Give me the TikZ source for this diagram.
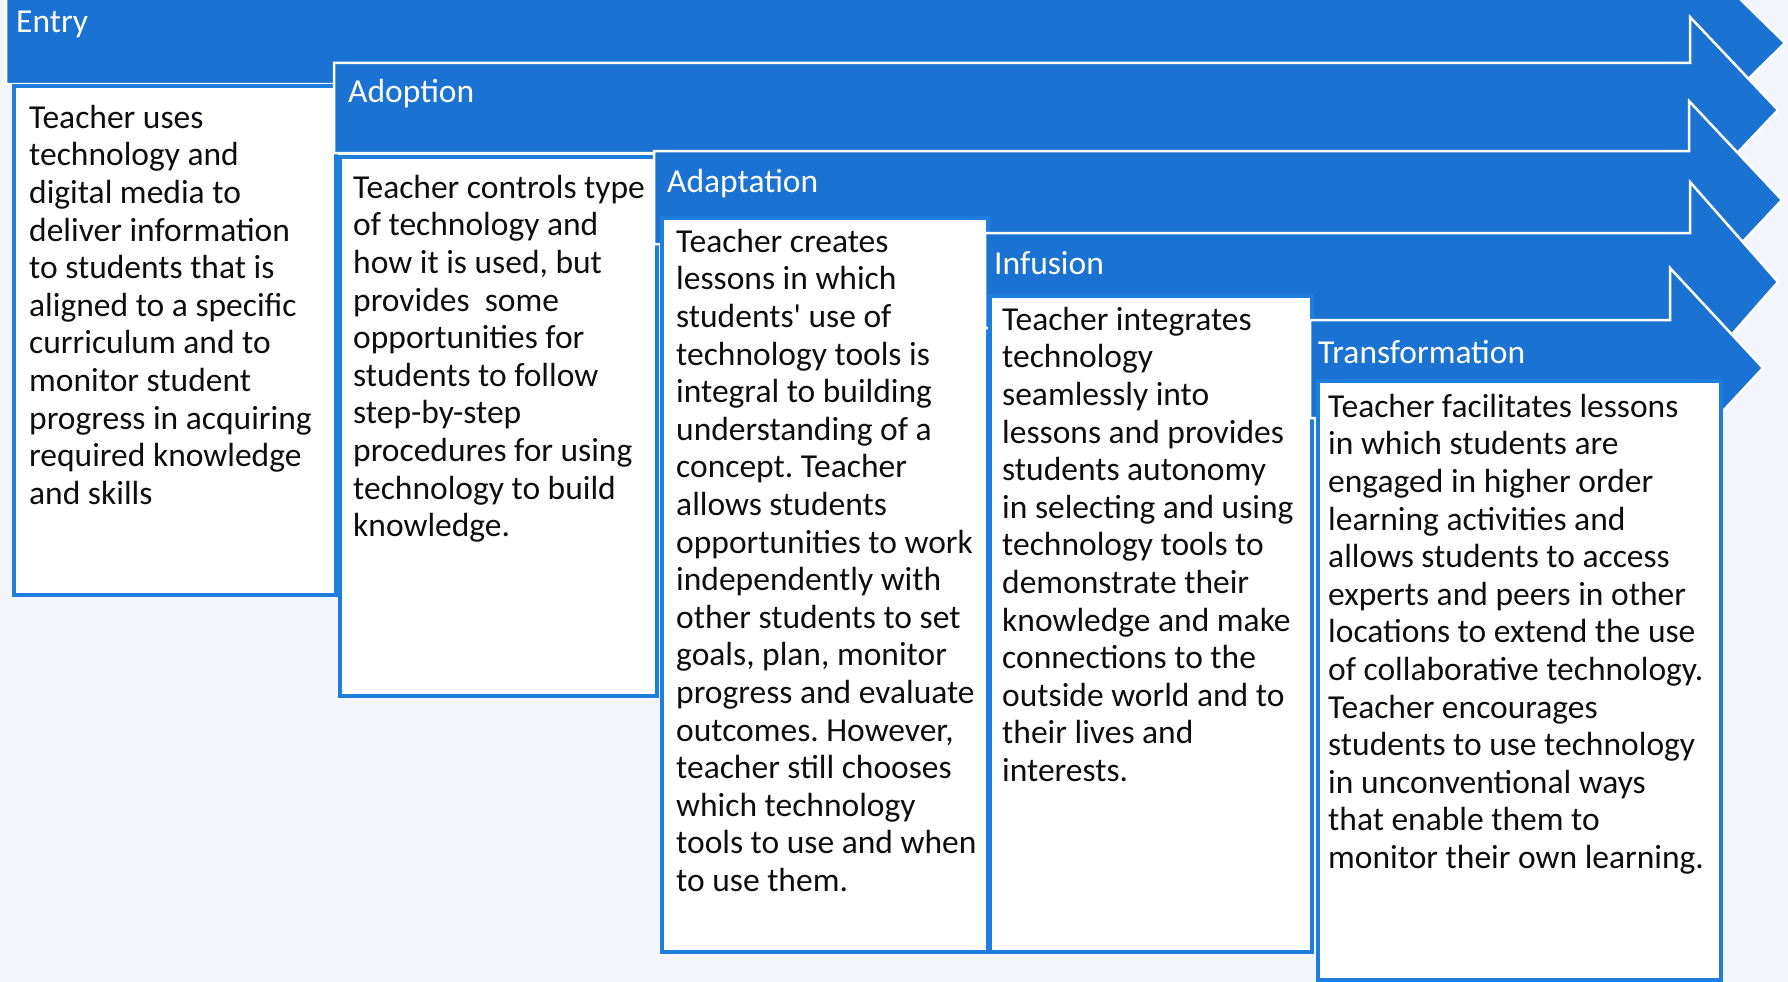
\documentclass[tikz,border=0pt]{standalone}
\usepackage{fontspec}
\setmainfont{Carlito}
\frenchspacing
\definecolor{bandblue}{RGB}{26,114,210}
\definecolor{boxline}{RGB}{30,126,222}
\definecolor{bgcol}{RGB}{243,246,252}
\definecolor{inkcol}{RGB}{14,14,18}
\tikzset{
  bandshape/.style={fill=bandblue, draw=white, line width=2.5pt, line join=miter},
  stagebox/.style={fill=white, draw=boxline, line width=3.5pt},
  bodytext/.style={anchor=north west, inner sep=0pt, align=left, text=inkcol,
    font=\fontsize{33.5}{37.6}\selectfont},
  labeltext/.style={anchor=base west, inner sep=0pt, text=white,
    font=\fontsize{33.5}{40}\selectfont},
}
% band: #1 left, #2 top, #3 bottom, #4 notch x, #5 tip x, #6 tip y, #7 head half height
\newcommand{\stageband}[7]{%
  \path[bandshape] (#1,#2) -- (#4,#2) -- (#4,#6-#7) -- (#5,#6) -- (#4,#6+#7)
    -- (#4,#3) -- (#1,#3) -- cycle;}
\begin{document}
\begin{tikzpicture}[x=1pt,y=-1pt]
\useasboundingbox (0,0) rectangle (1788,982);
\fill[bgcol] (0,0) rectangle (1788,982);

% Entry
\stageband{6}{-6}{84}{1690}{1785}{43}{93}
\node[labeltext] (lentry) at (16,33) {Entry};
\draw[stagebox] (14,86) rectangle (336,595);
\node[bodytext] (tentry) at (29,102) {\rule{0pt}{26pt}Teacher uses\\
technology and\\
digital media to\\
deliver information\\
to students that is\\
aligned to a specific\\
curriculum and to\\
monitor student\\
progress in acquiring\\
required knowledge\\
and skills};

% Adoption
\stageband{334}{63}{153}{1690}{1778}{110}{93}
\node[labeltext] (ladopt) at (348,102) {Adoption};
\draw[stagebox] (340,157) rectangle (657,696);
\node[bodytext] (tadopt) at (353,172) {\rule{0pt}{26pt}Teacher controls type\\
of technology and\\
how it is used, but\\
provides\ \ some\\
opportunities for\\
students to follow\\
step-by-step\\
procedures for using\\
technology to build\\
knowledge.};

% Adaptation
\stageband{654}{151}{244}{1689}{1782}{200}{99}
\node[labeltext] (ladapt) at (667,192) {Adaptation};
\draw[stagebox] (662,218) rectangle (988,952);
\node[bodytext] (tadapt) at (676,226) {\rule{0pt}{26pt}Teacher creates\\
lessons in which\\
students\textquotesingle{} use of\\
technology tools is\\
integral to building\\
understanding of a\\
concept. Teacher\\
allows students\\
opportunities to work\\
independently with\\
other students to set\\
goals, plan, monitor\\
progress and evaluate\\
outcomes. However,\\
teacher still chooses\\
which technology\\
tools to use and when\\
to use them.};

% Infusion
\stageband{985}{233}{328}{1690}{1778}{282}{100}
\node[labeltext] (linfus) at (994,274) {Infusion};
\draw[stagebox] (990,296) rectangle (1312,952);
\node[bodytext] (tinfus) at (1002,304) {\rule{0pt}{26pt}Teacher integrates\\
technology\\
seamlessly into\\
lessons and provides\\
students autonomy\\
in selecting and using\\
technology tools to\\
demonstrate their\\
knowledge and make\\
connections to the\\
outside world and to\\
their lives and\\
interests.};

% Transformation
\stageband{1310}{320}{418}{1670}{1763}{368}{100}
\node[labeltext] (ltrans) at (1318,363) {Transformation};
\draw[stagebox] (1318,381) rectangle (1721,980);
\node[bodytext] (ttrans) at (1328,391) {\rule{0pt}{26pt}Teacher facilitates lessons\\
in which students are\\
engaged in higher order\\
learning activities and\\
allows students to access\\
experts and peers in other\\
locations to extend the use\\
of collaborative technology.\\
Teacher encourages\\
students to use technology\\
in unconventional ways\\
that enable them to\\
monitor their own learning.};
\end{tikzpicture}
\end{document}
